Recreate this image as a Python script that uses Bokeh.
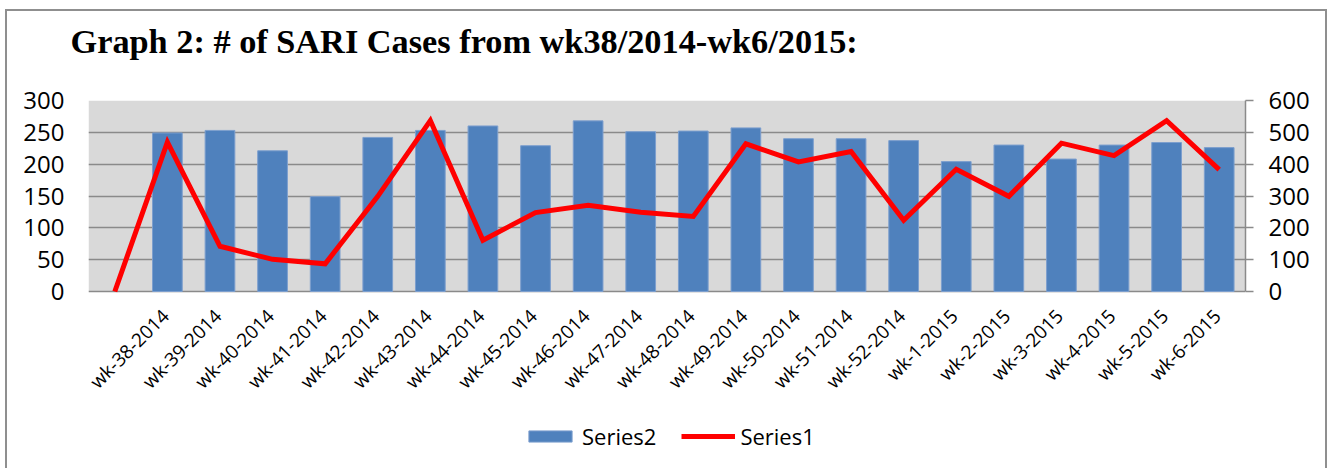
from math import pi
from bokeh.plotting import figure
from bokeh.models import (FactorRange, Range1d, LinearAxis, FixedTicker, Legend,
                          LegendItem, Title, BoxAnnotation)
from bokeh.core.properties import value
from bokeh.embed import file_html
from bokeh.resources import INLINE

categories = ["", "wk-38-2014", "wk-39-2014", "wk-40-2014", "wk-41-2014", "wk-42-2014",
              "wk-43-2014", "wk-44-2014", "wk-45-2014", "wk-46-2014", "wk-47-2014",
              "wk-48-2014", "wk-49-2014", "wk-50-2014", "wk-51-2014", "wk-52-2014",
              "wk-1-2015", "wk-2-2015", "wk-3-2015", "wk-4-2015", "wk-5-2015", "wk-6-2015"]
bar_categories = categories[1:]
series2 = [249, 253, 221, 149, 242, 253, 260, 229, 268, 251, 252, 257, 240, 240,
           237, 204, 230, 208, 230, 234, 226]
series1 = [0, 469, 142, 101, 87, 299, 537, 161, 248, 271, 249, 236, 464, 407, 440,
           224, 384, 299, 466, 427, 537, 383]
left_ticks = [0, 50, 100, 150, 200, 250, 300]
right_ticks = [0, 100, 200, 300, 400, 500, 600]

GRID = "#8a8a8a"
FONT = "Open Sans"

# layout: the frame reaches down to the canvas bottom so that the category labels
# and the legend can be drawn under the grey plot area without being clipped
FRAME_H = 368
PLOT_H = 191
ext = (FRAME_H - PLOT_H) / PLOT_H
left_max = left_ticks[-1]
right_max = right_ticks[-1]

p = figure(x_range=FactorRange(*categories, range_padding=0),
           y_range=Range1d(-left_max * ext, left_max),
           width=1330, height=100 + FRAME_H,
           frame_width=1157, frame_height=FRAME_H,
           min_border_left=88, min_border_top=100, min_border_right=85, min_border_bottom=0,
           output_backend="svg", toolbar_location=None)
p.styles = {
    "background-color": "white",
    "background-image": ("linear-gradient(#8f8f8f, #8f8f8f), linear-gradient(#8f8f8f, #8f8f8f), "
                         "linear-gradient(#8f8f8f, #8f8f8f)"),
    "background-size": "2px 100%, 1322px 2px, 2px 100%",
    "background-position": "5px 9px, 5px 9px, 1325px 9px",
    "background-repeat": "no-repeat",
}
p.background_fill_color = None
p.border_fill_color = None
p.outline_line_color = None

p.extra_y_ranges = {"right": Range1d(-right_max * ext, right_max)}

# grey plot area between 0 and the top of the left axis
p.add_layout(BoxAnnotation(bottom=left_ticks[0], top=left_max, fill_color="#d9d9d9",
                           fill_alpha=1, line_color=None, level="image"))

bars = p.vbar(x=bar_categories, top=series2, width=0.565, fill_color="#4f81bd",
              line_color="#7d9fce", line_width=1)
line = p.line(x=categories, y=series1, y_range_name="right", line_color="#ff0000",
              line_width=5, line_join="miter")

# category labels under the axis
p.text(x=bar_categories, y=[left_ticks[0]] * len(bar_categories), text=bar_categories,
       angle=pi / 4, text_align="right", text_baseline="middle",
       x_offset=-2, y_offset=21,
       text_font=value(FONT), text_font_size=value("19px"), text_color="black")

# left axis
p.yaxis.ticker = FixedTicker(ticks=left_ticks)
p.yaxis.axis_line_color = None
p.yaxis.major_tick_line_color = None
p.yaxis.major_tick_out = 0
p.yaxis.major_tick_in = 0
p.yaxis.minor_tick_line_color = None
p.yaxis.major_label_standoff = 24
p.yaxis.major_label_text_font = FONT
p.yaxis.major_label_text_font_size = "24px"
p.yaxis.major_label_text_color = "black"

# right axis
ra = LinearAxis(y_range_name="right", ticker=FixedTicker(ticks=right_ticks),
                bounds=(right_ticks[0], right_max))
ra.axis_line_color = GRID
ra.axis_line_width = 1.5
ra.major_tick_line_color = GRID
ra.major_tick_line_width = 1.5
ra.major_tick_out = 8
ra.major_tick_in = 0
ra.minor_tick_line_color = None
ra.major_label_standoff = 15
ra.major_label_text_font = FONT
ra.major_label_text_font_size = "24px"
ra.major_label_text_color = "black"
p.add_layout(ra, "right")

p.xaxis.visible = False
p.xgrid.grid_line_color = None
p.ygrid.grid_line_color = GRID
p.ygrid.grid_line_width = 1.5
p.ygrid.ticker = FixedTicker(ticks=left_ticks)

# spacer between frame and title (title goes outermost)
p.add_layout(Title(text=" ", text_font_size="10px", standoff=28), "above")
p.title = Title(text="Graph 2: # of SARI Cases from wk38/2014-wk6/2015:",
                align="left", offset=-18, standoff=0,
                text_font="Liberation Serif", text_font_style="bold",
                text_font_size="34.3px", text_color="black")

legend = Legend(items=[LegendItem(label="Series2", renderers=[bars]),
                       LegendItem(label="Series1", renderers=[line])],
                orientation="horizontal", location=(435, 17),
                glyph_width=54, glyph_height=14, label_standoff=5, spacing=25,
                padding=0, margin=0, border_line_color=None,
                background_fill_alpha=0,
                label_text_font=FONT, label_text_font_size="22px",
                label_text_color="black")
p.add_layout(legend, "center")

open("out.html", "w").write(file_html(p, INLINE))
